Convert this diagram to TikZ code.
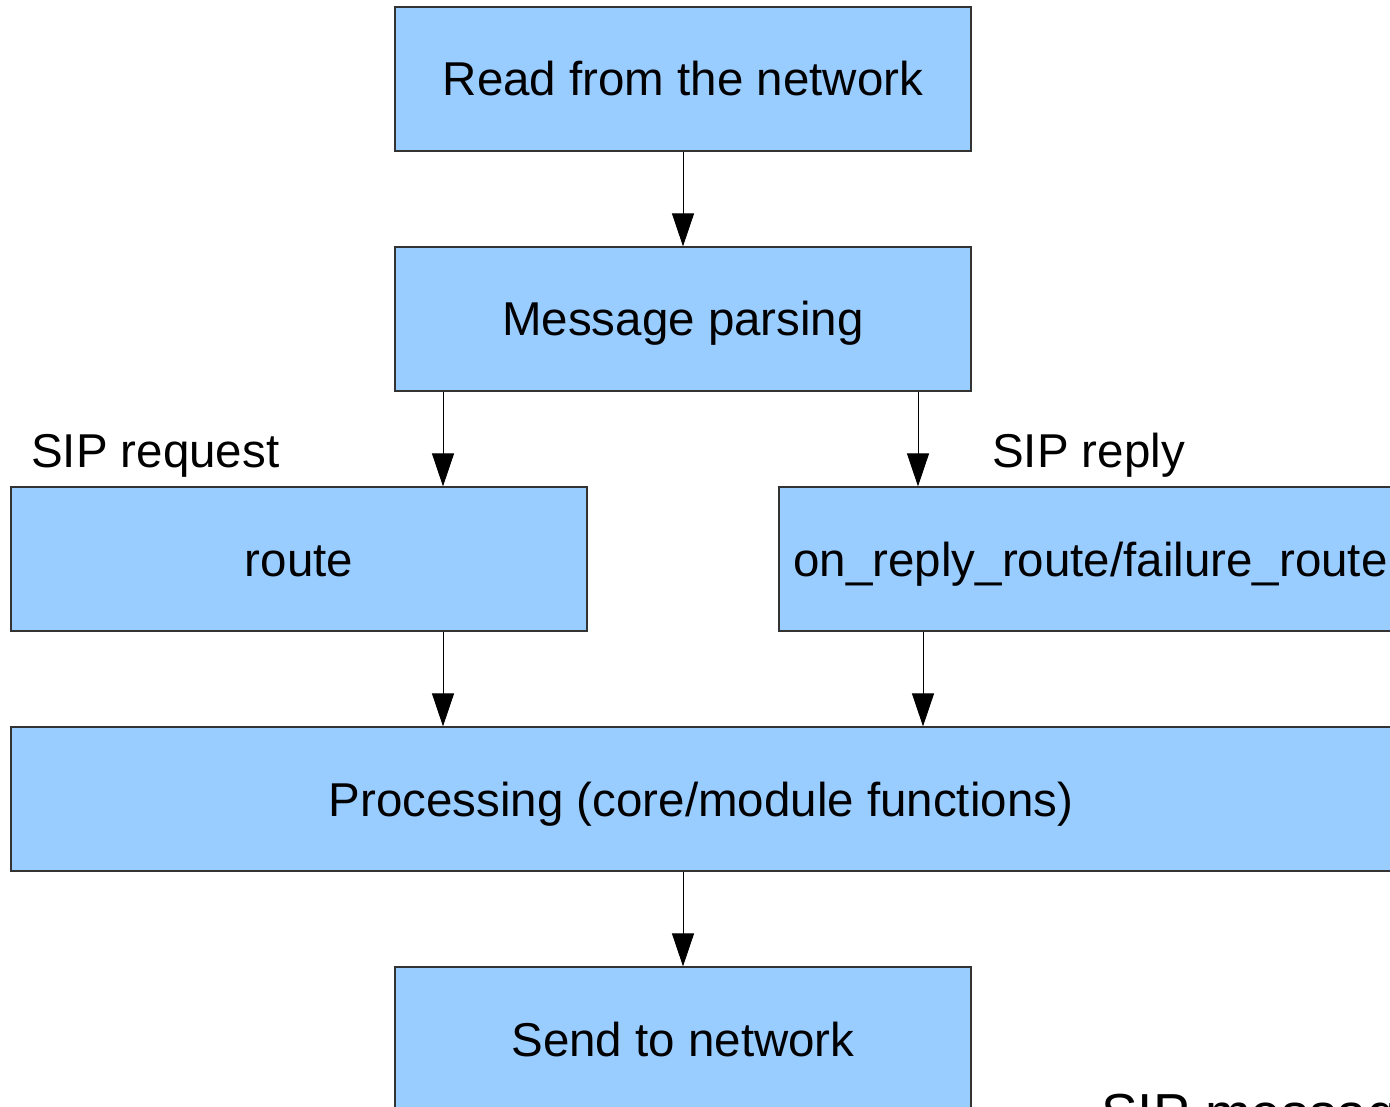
\documentclass[tikz,border=0pt]{standalone}
\usepackage{fontspec}
\setmainfont{Liberation Sans}
\usetikzlibrary{arrows.meta}

\tikzset{
    block/.style={draw=black!80, line width=1.2pt, fill={rgb,255:red,153;green,204;blue,255},
        minimum height=144pt, inner sep=0pt, text height=34pt, text depth=0pt},
    flow/.style={line width=1pt, -{Triangle[width=22pt,length=33pt]}},
    lbl/.style={anchor=west, inner sep=0pt, text height=34pt, text depth=0pt}
}

\begin{document}
\begin{tikzpicture}[x=1pt, y=-1pt, font=\fontsize{47.5}{57}\selectfont]
    \useasboundingbox (0,0) rectangle (1390,1107);
    \clip (0,0) rectangle (1390,1107);

    \node[block, minimum width=576pt] (read) at (683,79) {Read from the network};
    \node[block, minimum width=576pt] (parse) at (683,319) {Message parsing};
    \node[block, minimum width=576pt] (route) at (299,559) {route};
    \node[block, minimum width=623pt] (reply) at (1090.5,559) {on\_reply\_route/failure\_route};
    \node[block, minimum width=1380pt] (proc) at (701,799) {Processing (core/module functions)};
    \node[block, minimum width=576pt] (send) at (683,1039) {Send to network};

    \node[lbl] (req) at (31,450) {SIP request};
    \node[lbl] (rep) at (992,450) {SIP reply};
    \node[anchor=base west, inner sep=0pt, font=\fontsize{55}{66}\selectfont] (msg) at (1101,1132) {SIP message};

    \coordinate (lx) at (443,0);
    \coordinate (rx) at (918,0);
    \coordinate (rx2) at (923,0);

    \draw[flow] (read) -- (parse);
    \draw[flow] (parse.south -| lx) -- (route.north -| lx);
    \draw[flow] (parse.south -| rx) -- (reply.north -| rx);
    \draw[flow] (route.south -| lx) -- (proc.north -| lx);
    \draw[flow] (reply.south -| rx2) -- (proc.north -| rx2);
    \draw[flow] (proc.south -| send) -- (send);
\end{tikzpicture}
\end{document}
